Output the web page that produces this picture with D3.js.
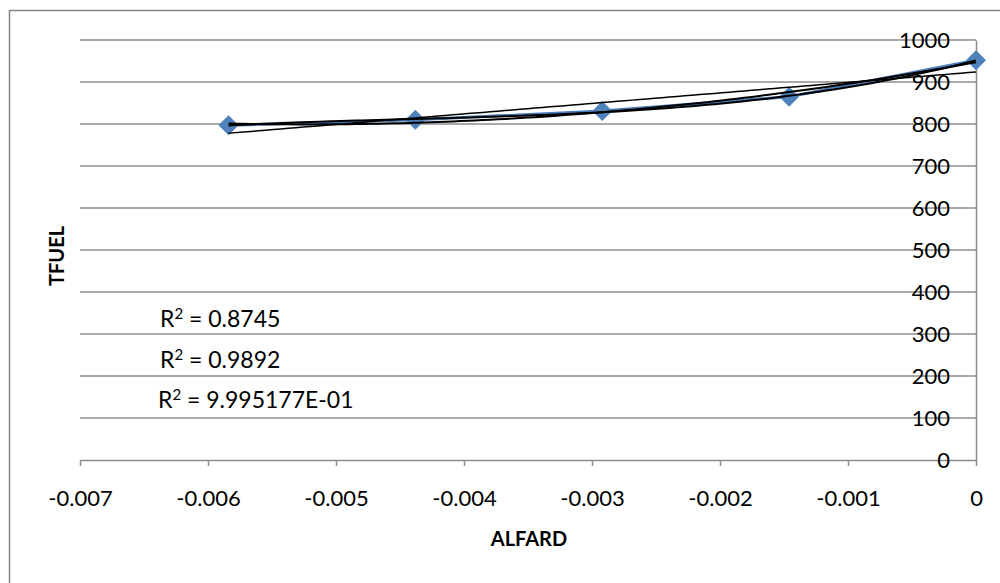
<!DOCTYPE html>
<html>
<head>
<meta charset="utf-8">
<script src="https://cdn.jsdelivr.net/npm/d3@7"></script>
<style>
  body { margin: 0; background: #fff; }
  svg { display: block; font-family: Lato, 'Open Sans', sans-serif; }
</style>
</head>
<body>
<svg></svg>
<script>
var width = 1000;
var height = 583;

// data
var alfard = [-0.00584, -0.00438, -0.00292, -0.00146, 0];
var tfuel = [797, 810, 831, 865, 952];
var xTicks = [-0.007, -0.006, -0.005, -0.004, -0.003, -0.002, -0.001, 0];
var yTicks = [0, 100, 200, 300, 400, 500, 600, 700, 800, 900, 1000];
var r2Values = ['0.8745', '0.9892', '9.995177E-01'];
var trendOrders = [1, 2, 3];

var points = alfard.map((x, i) => ({x: x, y: tfuel[i]}));

var svg = d3.select('svg')
    .attr('width', width)
    .attr('height', height);

var Xscale = d3.scaleLinear().domain([-0.007, 0]).range([80, 976]);
var Yscale = d3.scaleLinear().domain([0, 1000]).range([460, 40]);

// chart frame (runs off the page like the original)
svg.append('rect')
    .attr('x', 9.5).attr('y', 10.5)
    .attr('width', 1000).attr('height', 600)
    .attr('fill', 'none')
    .attr('stroke', '#868686')
    .attr('stroke-width', 1.5);

// gridlines
svg.append('g')
    .selectAll('line')
    .data(yTicks.filter(d => d > 0))
    .enter()
    .append('line')
    .attr('x1', Xscale(-0.007)).attr('x2', Xscale(0))
    .attr('y1', d => Yscale(d)).attr('y2', d => Yscale(d))
    .attr('stroke', '#8c8c8c')
    .attr('stroke-width', 1.5);

// x axis
var Xaxis = d3.axisBottom(Xscale)
    .tickValues(xTicks)
    .tickSize(6)
    .tickSizeOuter(0)
    .tickPadding(24)
    .tickFormat(d => d === 0 ? '0' : d3.format('.3f')(d).replace('−', '-'));

var gx = svg.append('g')
    .attr('transform', `translate(0,${Yscale(0)})`)
    .call(Xaxis);
gx.select('.domain').attr('stroke', '#8c8c8c').attr('stroke-width', 1.5);
gx.selectAll('.tick line').attr('stroke', '#8c8c8c').attr('stroke-width', 1.5);
gx.selectAll('.tick text')
    .attr('fill', '#000')
    .style('font-size', '22px')
    .style('font-family', 'Lato, sans-serif');

// y axis sits at x = 0, labels on its left
var Yaxis = d3.axisLeft(Yscale)
    .tickValues(yTicks)
    .tickSize(0)
    .tickPadding(26)
    .tickFormat(d3.format('d'));

var gy = svg.append('g')
    .attr('transform', `translate(${Xscale(0)},0)`)
    .call(Yaxis);
gy.select('.domain').attr('stroke', '#8c8c8c').attr('stroke-width', 1.5);
gy.selectAll('.tick text')
    .attr('fill', '#000')
    .style('font-size', '22px')
    .style('font-family', 'Lato, sans-serif');

// least squares polynomial fit, x scaled by 1000 for conditioning
function polyFit(order) {
    var n = order + 1;
    var A = [];
    for (var r = 0; r < n; r++) {
        A.push([]);
        for (var c = 0; c < n; c++) {
            A[r].push(d3.sum(points, p => Math.pow(p.x * 1000, r + c)));
        }
        A[r].push(d3.sum(points, p => p.y * Math.pow(p.x * 1000, r)));
    }
    for (var i = 0; i < n; i++) {
        var piv = i;
        for (var k = i + 1; k < n; k++) if (Math.abs(A[k][i]) > Math.abs(A[piv][i])) piv = k;
        var tmp = A[i]; A[i] = A[piv]; A[piv] = tmp;
        for (var k = i + 1; k < n; k++) {
            var f = A[k][i] / A[i][i];
            for (var c = i; c <= n; c++) A[k][c] -= f * A[i][c];
        }
    }
    var coef = new Array(n).fill(0);
    for (var i = n - 1; i >= 0; i--) {
        var s = A[i][n];
        for (var c = i + 1; c < n; c++) s -= A[i][c] * coef[c];
        coef[i] = s / A[i][i];
    }
    return x => coef.reduce((acc, a, j) => acc + a * Math.pow(x * 1000, j), 0);
}

var xMin = d3.min(alfard), xMax = d3.max(alfard);
var samples = d3.range(0, 101).map(i => xMin + (xMax - xMin) * i / 100);

var line = d3.line()
    .x(d => Xscale(d.x))
    .y(d => Yscale(d.y));

// data series
svg.append('path')
    .datum(points)
    .attr('d', line)
    .attr('fill', 'none')
    .attr('stroke', '#4a7ebb')
    .attr('stroke-width', 3);

var diamond = {
    draw: function (p, size) {
        var r = Math.sqrt(size) / 2;
        p.moveTo(0, -r);
        p.lineTo(r, 0);
        p.lineTo(0, r);
        p.lineTo(-r, 0);
        p.closePath();
    }
};

svg.append('g')
    .selectAll('path')
    .data(points)
    .enter()
    .append('path')
    .attr('transform', d => `translate(${Xscale(d.x)},${Yscale(d.y)})`)
    .attr('d', d3.symbol().type(diamond).size(400))
    .attr('fill', '#4f81bd');

// trendlines
svg.append('g')
    .selectAll('path')
    .data(trendOrders)
    .enter()
    .append('path')
    .attr('d', o => {
        var f = polyFit(o);
        return line(samples.map(x => ({x: x, y: f(x)})));
    })
    .attr('fill', 'none')
    .attr('stroke', '#000')
    .attr('stroke-width', o => o === 1 ? 1.5 : 2);

// R² labels
var r2 = svg.append('g')
    .selectAll('text')
    .data(r2Values)
    .enter()
    .append('text')
    .attr('x', (d, i) => i === 2 ? 158 : 160)
    .attr('y', (d, i) => 327 + i * 40.5)
    .style('font-size', '23px');
r2.append('tspan').text('R');
r2.append('tspan').attr('dy', -8).style('font-size', '15px').text('2');
r2.append('tspan').attr('dy', 8).text(d => ' = ' + d);

// axis titles
svg.append('text')
    .attr('text-anchor', 'middle')
    .attr('transform', `translate(529,546)`)
    .style('font-weight', 'bold')
    .style('font-size', '20px')
    .text('ALFARD');

svg.append('text')
    .attr('text-anchor', 'middle')
    .attr('transform', `translate(64,256) rotate(-90)`)
    .style('font-weight', 'bold')
    .style('font-size', '20px')
    .text('TFUEL');
</script>
</body>
</html>
